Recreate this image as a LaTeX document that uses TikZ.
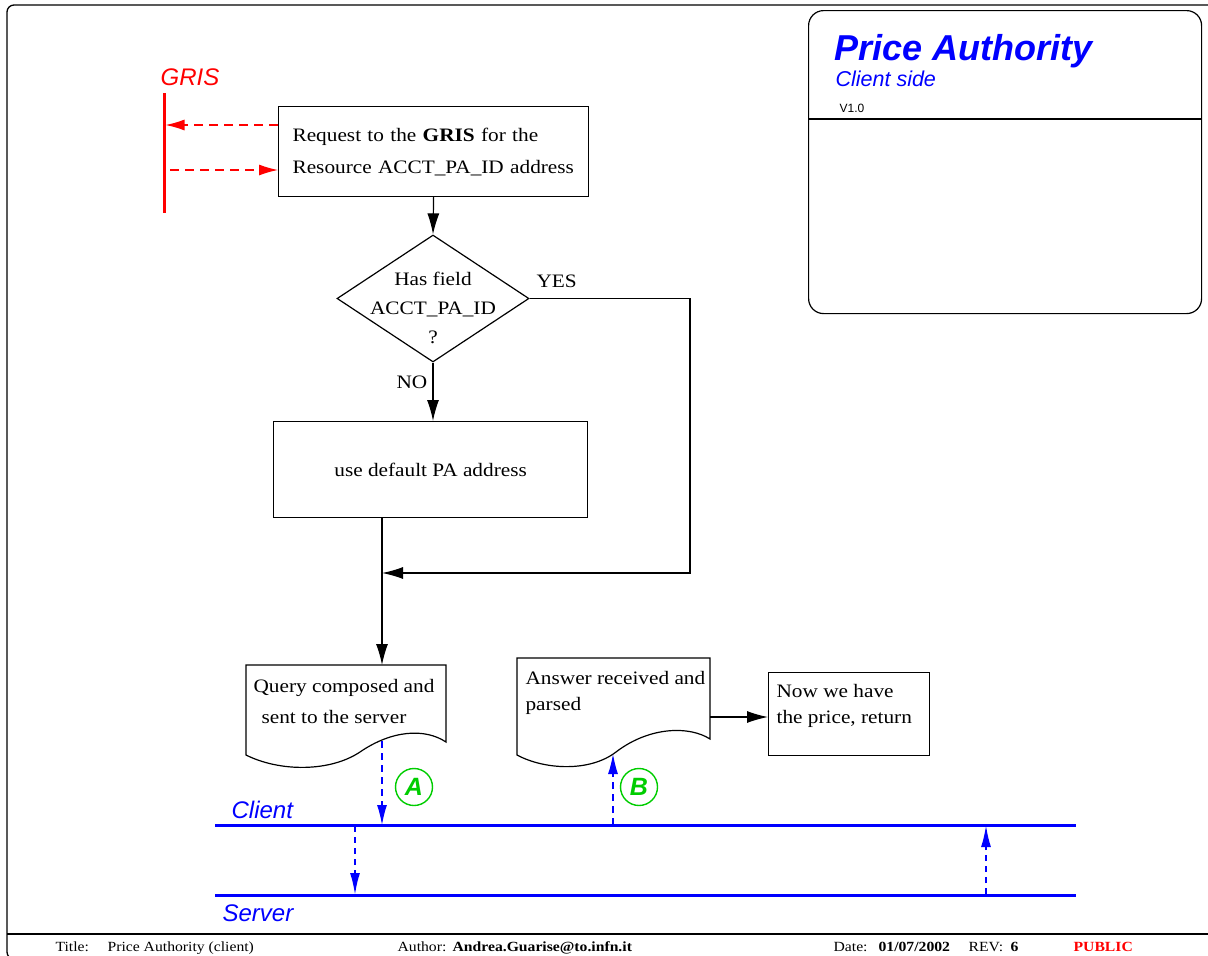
\documentclass[tikz,border=0pt]{standalone}
\usepackage{fontspec}
\setmainfont[FakeStretch=1.12]{Liberation Serif}
\newfontfamily\hvf{Liberation Sans}
\usetikzlibrary{arrows.meta,shapes.geometric}
\definecolor{pblue}{RGB}{0,0,255}
\definecolor{pred}{RGB}{255,0,0}
\definecolor{pgreen}{RGB}{0,205,0}
\newcommand\bodyfont[1]{\fontsize{19}{#1}\selectfont}
\newcommand\footfont{\fontsize{14}{14}\selectfont}
\begin{document}
\begin{tikzpicture}[x=1pt,y=-1pt,line width=1.2pt,
  box/.style={draw,rectangle,inner sep=0,line width=1.2pt},
  txt/.style={inner sep=0,align=left,anchor=north west},
  lbl/.style={inner sep=0,anchor=base west},
  flow/.style={-{Latex[length=21pt,width=12pt]},line width=1.2pt},
  rarrow/.style={draw=pred,-{Latex[length=19pt,width=11pt]},dash pattern=on 9pt off 6pt,line width=1.2pt},
  barrow/.style={draw=pblue,-{Latex[length=20pt,width=10pt]},dash pattern=on 7pt off 5pt,line width=1.2pt},
  barrowb/.style={draw=pblue,-{Latex[length=22pt,width=10pt]},dash pattern=on 6pt off 5pt,line width=2pt},
  bline/.style={draw=pblue,line width=3pt},
  gcirc/.style={circle,draw=pgreen,line width=1.4pt,minimum size=37pt,inner sep=0,text=pgreen,font=\hvf\bfseries\itshape\fontsize{25}{25}\selectfont},
  sansit/.style={font=\hvf\itshape\fontsize{24}{24}\selectfont}
]
\useasboundingbox (0,0) rectangle (1208,956);
\begin{scope}
\clip (0,0) rectangle (1208,956);
\draw[line width=1.3pt,rounded corners=7pt] (7,5) rectangle (1240,959);
\draw[line width=1.3pt] (7,934) -- (1208,934);
\end{scope}

% title block
\node[box,rounded corners=15pt,minimum width=393,minimum height=303,anchor=north west] (tb) at (808,10) {};
\coordinate (tdiv) at (808,119);
\draw (tdiv) -- (tdiv -| tb.east);
\node[lbl,text=pblue,font=\hvf\bfseries\itshape\fontsize{36}{36}\selectfont] (pa) at (834,60) {Price Authority};
\node[lbl,text=pblue,font=\hvf\itshape\fontsize{21.5}{22}\selectfont] (cs) at (835,86) {Client side};
\node[lbl,font=\hvf\fontsize{12}{12}\selectfont] (ver) at (839,112) {V1.0};

% GRIS
\node[lbl,sansit,text=pred] (gris) at (160,85) {GRIS};
\coordinate (gt) at (164,93);
\coordinate (gb) at (164,213);
\draw[draw=pred,line width=3pt] (gt) -- (gb);

% request box
\node[box,minimum width=310,minimum height=90,anchor=north west,text width=282,align=left,font=\bodyfont{32}] (req) at (278,106) {Request to the \textbf{GRIS} for the\\Resource ACCT\_PA\_ID address};
\coordinate (r1) at (278,125);
\coordinate (r2) at (170,170);
\draw[rarrow,shorten >=1.5pt] (r1) -- (r1 -| gt);
\draw[rarrow] (r2) -- (r2 -| req.west);

% diamond
\node[draw,diamond,minimum width=192,minimum height=127,inner sep=0,line width=1.2pt] (dia) at (433,298.5) {};
\node[inner sep=0,align=center,anchor=north,font=\bodyfont{29}] (diat) at (433,272) {Has field\\ACCT\_PA\_ID\\?};
\draw[flow] (req.south) -- (dia.north);
\node[lbl,font=\bodyfont{20}] (yes) at (536,287) {YES};
\node[lbl,font=\bodyfont{20}] (no) at (396,388) {NO};

% default box
\node[box,minimum width=314,minimum height=96,anchor=north west,font=\bodyfont{20}] (def) at (273,421) {use default PA address};
\draw[flow] (dia.south) -- (dia.south |- def.north);

\coordinate (merge) at (382,573);
\coordinate (yesc) at (690,573);
\coordinate (qin) at (382,665);
\draw[flow] (dia.east) -| (yesc) -- (merge);
\draw[flow] (def.south -| qin) -- (qin);

% query document
\draw (246,665) -- (446,665) -- (446,742) .. controls (425,728) and (392,730) .. (360,752) .. controls (330,772) and (280,772) .. (246,755) -- cycle;
\node[txt,font=\bodyfont{31}] (qt) at (253,679) {Query composed and\\\hspace*{8pt}sent to the server};

% answer document
\draw (517,658) -- (710,658) -- (710,739) .. controls (690,726) and (650,726) .. (616,752) .. controls (590,772) and (545,770) .. (517,755) -- cycle;
\node[txt,font=\bodyfont{26}] (ans) at (525,671) {Answer received and\\parsed};

% return box
\node[box,minimum width=161,minimum height=83,anchor=north west] (ret) at (768,672) {};
\node[txt,font=\bodyfont{26}] (rett) at (776,684) {Now we have\\the price, return};
\coordinate (ansout) at (710,717);
\draw[flow] (ansout) -- (ansout -| ret.west);

% client / server lines
\coordinate (cl) at (215,825);
\coordinate (cr) at (1076,825);
\coordinate (sl) at (215,895);
\coordinate (sr) at (1076,895);
\draw[bline] (cl) -- (cr);
\draw[bline] (sl) -- (sr);
\node[lbl,sansit,text=pblue] (client) at (231,818) {Client};
\node[lbl,sansit,text=pblue] (server) at (222,921) {Server};

\coordinate (aA) at (382,741);
\coordinate (bB) at (613,754);
\draw[barrow] (aA) -- (aA |- cl);
\draw[barrow] (bB |- cl) -- (bB);
\coordinate (dn) at (355,826);
\coordinate (up) at (986,894);
\draw[barrowb] (dn) -- (dn |- sl);
\draw[barrowb] (up) -- (up |- cl);

\node[gcirc] (cA) at (414,787) {A};
\node[gcirc] (cB) at (639,787) {B};

% footer
\node[lbl,font=\footfont] (ft1) at (55,951) {Title:};
\node[lbl,font=\footfont] (ft2) at (107,951) {Price Authority (client)};
\node[lbl,font=\footfont] (ft3) at (397,951) {Author:};
\node[lbl,font=\footfont\bfseries] (ft4) at (452,951) {Andrea.Guarise@to.infn.it};
\node[lbl,font=\footfont] (ft5) at (833,951) {Date:};
\node[lbl,font=\footfont\bfseries] (ft6) at (878,951) {01/07/2002};
\node[lbl,font=\footfont] (ft7) at (968,951) {REV:};
\node[lbl,font=\footfont\bfseries] (ft8) at (1010,951) {6};
\node[lbl,font=\footfont\bfseries,text=pred] (ft9) at (1073,951) {PUBLIC};
\end{tikzpicture}
\end{document}
